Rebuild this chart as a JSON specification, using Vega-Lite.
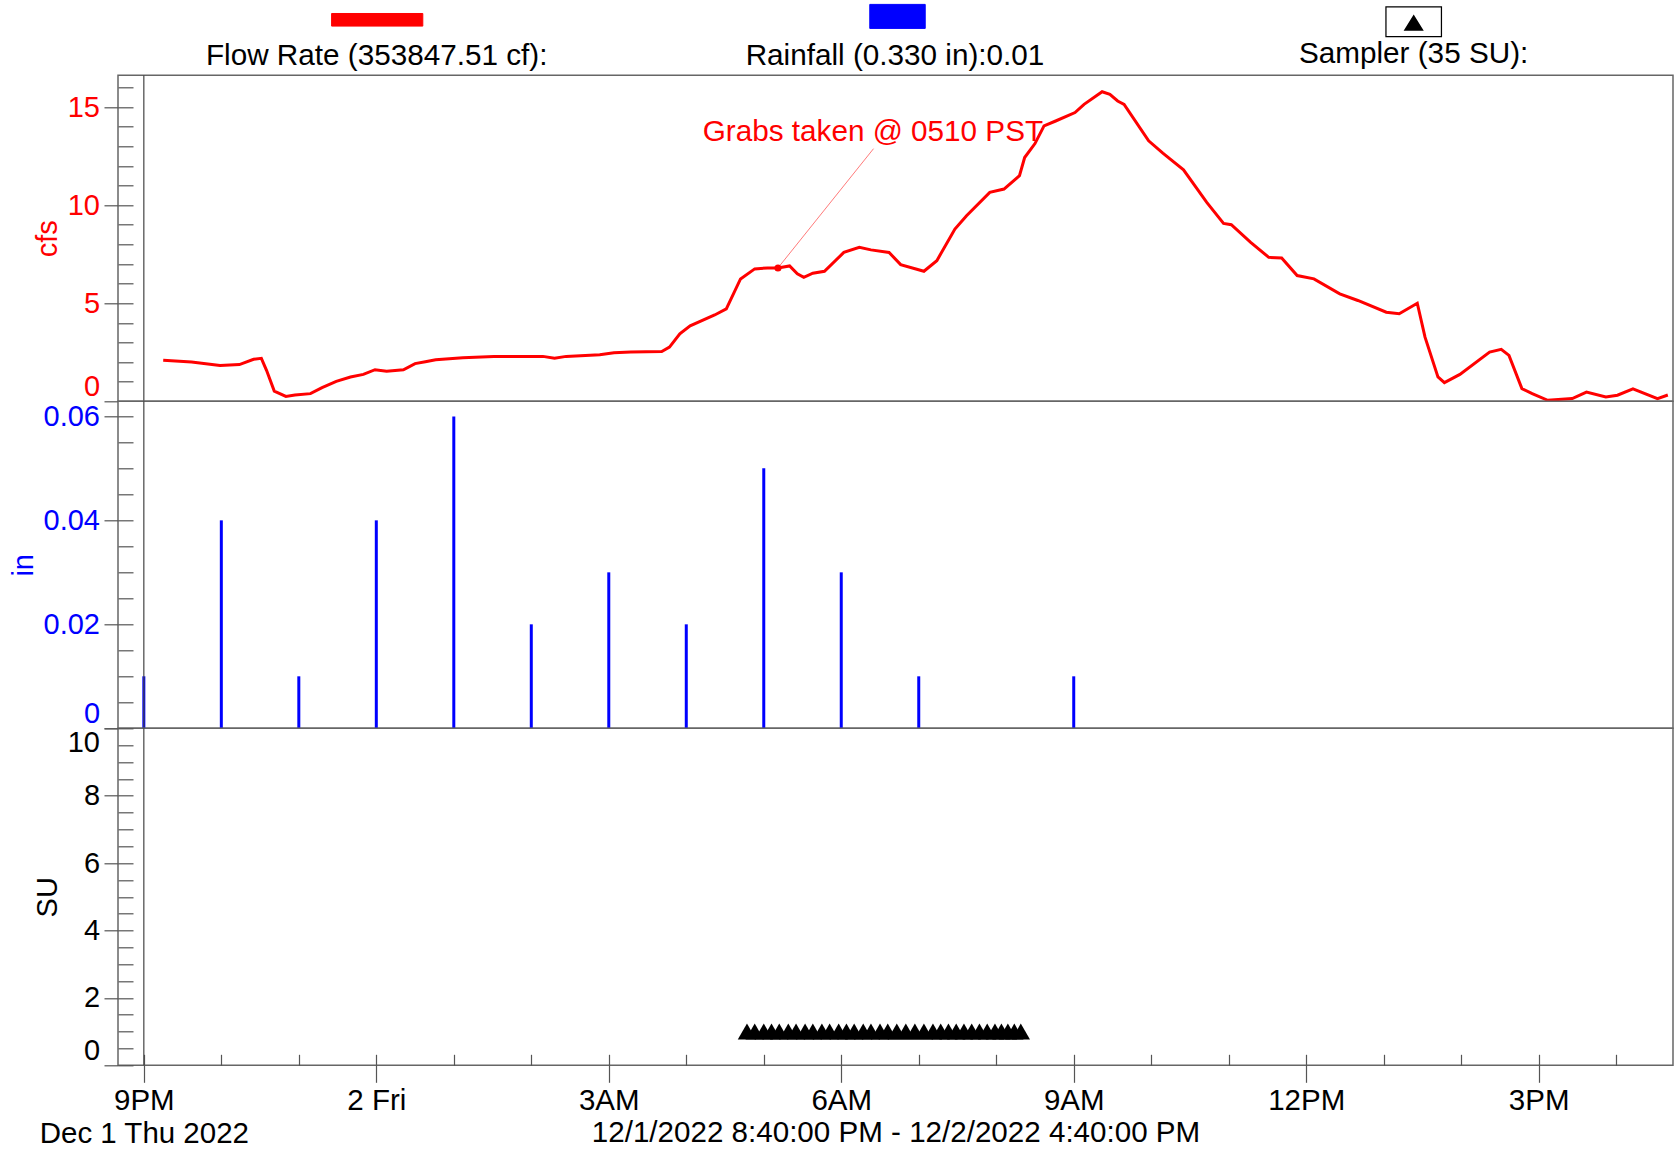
{
  "$schema": "https://vega.github.io/schema/vega-lite/v6.json",
  "padding": {"left": 8, "top": 2.3, "right": 0, "bottom": 0},
  "background": "white",
  "spacing": 0,
  "bounds": "flush",
  "resolve": {
    "scale": {"stroke": "independent", "color": "independent", "fill": "independent"},
    "legend": {"stroke": "independent", "color": "independent", "fill": "independent"}
  },
  "config": {
    "font": "Liberation Sans",
    "view": {"stroke": "#666", "strokeWidth": 1.5, "fill": "white"},
    "axis": {
      "labelFont": "Liberation Sans", "titleFont": "Liberation Sans", "titleFontWeight": "normal",
      "labelFontSize": 29, "titleFontSize": 29, "tickColor": "#555", "tickWidth": 1.2,
      "grid": false, "domain": false, "labelLimit": 400, "titleLimit": 1000, "labelOverlap": false
    },
    "legend": {
      "padding": 0, "titleFont": "Liberation Sans", "titleFontWeight": "normal", "titleFontSize": 29.7,
      "titleColor": "black", "titleLimit": 1000, "labelLimit": 10
    }
  },
  "datasets": {
    "flow": [
      {"t": "2022-12-01T21:15:00", "v": 2.09}, {"t": "2022-12-01T21:37:00", "v": 2.00},
      {"t": "2022-12-01T21:59:00", "v": 1.83}, {"t": "2022-12-01T22:14:00", "v": 1.87},
      {"t": "2022-12-01T22:25:00", "v": 2.14}, {"t": "2022-12-01T22:31:00", "v": 2.19},
      {"t": "2022-12-01T22:35:00", "v": 1.58}, {"t": "2022-12-01T22:41:00", "v": 0.52},
      {"t": "2022-12-01T22:50:00", "v": 0.25}, {"t": "2022-12-01T22:57:00", "v": 0.32},
      {"t": "2022-12-01T23:09:00", "v": 0.39}, {"t": "2022-12-01T23:18:00", "v": 0.70},
      {"t": "2022-12-01T23:29:00", "v": 1.02}, {"t": "2022-12-01T23:40:00", "v": 1.24},
      {"t": "2022-12-01T23:50:00", "v": 1.37}, {"t": "2022-12-01T23:59:00", "v": 1.61},
      {"t": "2022-12-02T00:08:00", "v": 1.53}, {"t": "2022-12-02T00:21:00", "v": 1.61},
      {"t": "2022-12-02T00:30:00", "v": 1.92}, {"t": "2022-12-02T00:38:00", "v": 2.02},
      {"t": "2022-12-02T00:46:00", "v": 2.12}, {"t": "2022-12-02T01:07:00", "v": 2.22},
      {"t": "2022-12-02T01:31:00", "v": 2.29}, {"t": "2022-12-02T02:09:00", "v": 2.29},
      {"t": "2022-12-02T02:18:00", "v": 2.19}, {"t": "2022-12-02T02:27:00", "v": 2.29},
      {"t": "2022-12-02T02:53:00", "v": 2.37}, {"t": "2022-12-02T03:04:00", "v": 2.48},
      {"t": "2022-12-02T03:17:00", "v": 2.51}, {"t": "2022-12-02T03:41:00", "v": 2.54},
      {"t": "2022-12-02T03:47:00", "v": 2.76}, {"t": "2022-12-02T03:55:00", "v": 3.44},
      {"t": "2022-12-02T04:03:00", "v": 3.85}, {"t": "2022-12-02T04:22:00", "v": 4.40},
      {"t": "2022-12-02T04:31:00", "v": 4.71}, {"t": "2022-12-02T04:42:00", "v": 6.24},
      {"t": "2022-12-02T04:53:00", "v": 6.75}, {"t": "2022-12-02T05:03:00", "v": 6.80},
      {"t": "2022-12-02T05:11:00", "v": 6.80}, {"t": "2022-12-02T05:20:00", "v": 6.90},
      {"t": "2022-12-02T05:26:00", "v": 6.50}, {"t": "2022-12-02T05:31:00", "v": 6.32},
      {"t": "2022-12-02T05:38:00", "v": 6.53}, {"t": "2022-12-02T05:47:00", "v": 6.63},
      {"t": "2022-12-02T06:02:00", "v": 7.59}, {"t": "2022-12-02T06:14:00", "v": 7.85},
      {"t": "2022-12-02T06:23:00", "v": 7.72}, {"t": "2022-12-02T06:37:00", "v": 7.59},
      {"t": "2022-12-02T06:46:00", "v": 6.97}, {"t": "2022-12-02T07:04:00", "v": 6.63},
      {"t": "2022-12-02T07:14:00", "v": 7.17}, {"t": "2022-12-02T07:28:00", "v": 8.78},
      {"t": "2022-12-02T07:37:00", "v": 9.46}, {"t": "2022-12-02T07:55:00", "v": 10.65},
      {"t": "2022-12-02T08:06:00", "v": 10.82}, {"t": "2022-12-02T08:18:00", "v": 11.50},
      {"t": "2022-12-02T08:22:00", "v": 12.43}, {"t": "2022-12-02T08:30:00", "v": 13.14},
      {"t": "2022-12-02T08:37:00", "v": 14.04}, {"t": "2022-12-02T08:46:00", "v": 14.29},
      {"t": "2022-12-02T09:01:00", "v": 14.72}, {"t": "2022-12-02T09:08:00", "v": 15.14},
      {"t": "2022-12-02T09:22:00", "v": 15.78}, {"t": "2022-12-02T09:28:00", "v": 15.65},
      {"t": "2022-12-02T09:34:00", "v": 15.31}, {"t": "2022-12-02T09:39:00", "v": 15.14},
      {"t": "2022-12-02T09:58:00", "v": 13.28}, {"t": "2022-12-02T10:09:00", "v": 12.65},
      {"t": "2022-12-02T10:25:00", "v": 11.80}, {"t": "2022-12-02T10:43:00", "v": 10.14},
      {"t": "2022-12-02T10:56:00", "v": 9.07}, {"t": "2022-12-02T11:02:00", "v": 9.00},
      {"t": "2022-12-02T11:17:00", "v": 8.10}, {"t": "2022-12-02T11:31:00", "v": 7.34},
      {"t": "2022-12-02T11:41:00", "v": 7.31}, {"t": "2022-12-02T11:53:00", "v": 6.41},
      {"t": "2022-12-02T12:06:00", "v": 6.24}, {"t": "2022-12-02T12:26:00", "v": 5.48},
      {"t": "2022-12-02T12:40:00", "v": 5.14}, {"t": "2022-12-02T13:02:00", "v": 4.54},
      {"t": "2022-12-02T13:12:00", "v": 4.46}, {"t": "2022-12-02T13:26:00", "v": 5.00},
      {"t": "2022-12-02T13:32:00", "v": 3.27}, {"t": "2022-12-02T13:42:00", "v": 1.24},
      {"t": "2022-12-02T13:47:00", "v": 0.95}, {"t": "2022-12-02T13:59:00", "v": 1.37},
      {"t": "2022-12-02T14:22:00", "v": 2.51}, {"t": "2022-12-02T14:31:00", "v": 2.65},
      {"t": "2022-12-02T14:37:00", "v": 2.34}, {"t": "2022-12-02T14:47:00", "v": 0.65},
      {"t": "2022-12-02T14:55:00", "v": 0.39}, {"t": "2022-12-02T15:07:00", "v": 0.05},
      {"t": "2022-12-02T15:26:00", "v": 0.14}, {"t": "2022-12-02T15:37:00", "v": 0.47},
      {"t": "2022-12-02T15:52:00", "v": 0.22}, {"t": "2022-12-02T16:01:00", "v": 0.31},
      {"t": "2022-12-02T16:13:00", "v": 0.63}, {"t": "2022-12-02T16:32:00", "v": 0.14},
      {"t": "2022-12-02T16:40:00", "v": 0.32}
    ],
    "rain": [
      {"t": "2022-12-01T21:00:00", "v": 0.01}, {"t": "2022-12-01T22:00:00", "v": 0.04},
      {"t": "2022-12-01T23:00:00", "v": 0.01}, {"t": "2022-12-02T00:00:00", "v": 0.04},
      {"t": "2022-12-02T01:00:00", "v": 0.06}, {"t": "2022-12-02T02:00:00", "v": 0.02},
      {"t": "2022-12-02T03:00:00", "v": 0.03}, {"t": "2022-12-02T04:00:00", "v": 0.02},
      {"t": "2022-12-02T05:00:00", "v": 0.05}, {"t": "2022-12-02T06:00:00", "v": 0.03},
      {"t": "2022-12-02T07:00:00", "v": 0.01}, {"t": "2022-12-02T09:00:00", "v": 0.01}
    ],
    "sampler": [
      {"t": "2022-12-02T04:47:00", "su": 1}, {"t": "2022-12-02T04:53:00", "su": 1},
      {"t": "2022-12-02T05:00:00", "su": 1}, {"t": "2022-12-02T05:06:00", "su": 1},
      {"t": "2022-12-02T05:12:00", "su": 1}, {"t": "2022-12-02T05:19:00", "su": 1},
      {"t": "2022-12-02T05:25:00", "su": 1}, {"t": "2022-12-02T05:32:00", "su": 1},
      {"t": "2022-12-02T05:38:00", "su": 1}, {"t": "2022-12-02T05:45:00", "su": 1},
      {"t": "2022-12-02T05:51:00", "su": 1}, {"t": "2022-12-02T05:58:00", "su": 1},
      {"t": "2022-12-02T06:04:00", "su": 1}, {"t": "2022-12-02T06:10:00", "su": 1},
      {"t": "2022-12-02T06:17:00", "su": 1}, {"t": "2022-12-02T06:23:00", "su": 1},
      {"t": "2022-12-02T06:30:00", "su": 1}, {"t": "2022-12-02T06:36:00", "su": 1},
      {"t": "2022-12-02T06:43:00", "su": 1}, {"t": "2022-12-02T06:50:00", "su": 1},
      {"t": "2022-12-02T06:57:00", "su": 1}, {"t": "2022-12-02T07:04:00", "su": 1},
      {"t": "2022-12-02T07:11:00", "su": 1}, {"t": "2022-12-02T07:17:00", "su": 1},
      {"t": "2022-12-02T07:23:00", "su": 1}, {"t": "2022-12-02T07:29:00", "su": 1},
      {"t": "2022-12-02T07:35:00", "su": 1}, {"t": "2022-12-02T07:41:00", "su": 1},
      {"t": "2022-12-02T07:47:00", "su": 1}, {"t": "2022-12-02T07:53:00", "su": 1},
      {"t": "2022-12-02T07:59:00", "su": 1}, {"t": "2022-12-02T08:04:00", "su": 1},
      {"t": "2022-12-02T08:09:00", "su": 1}, {"t": "2022-12-02T08:14:00", "su": 1},
      {"t": "2022-12-02T08:19:00", "su": 1}
    ],
    "note": [
      {"t": "2022-12-02T05:11:00", "v": 6.8, "t2": "2022-12-02T06:25:00", "v2": 12.88,
       "lt": "2022-12-02T06:24:30", "lv": 13.25, "label": "Grabs taken @ 0510 PST"}
    ],
    "ref9": [{"t": "2022-12-01T21:00:00"}]
  },
  "vconcat": [
    {
      "width": 1555, "height": 326,
      "resolve": {"axis": {"y": "independent"}},
      "layer": [
        {
          "data": {"name": "flow"},
          "mark": {"type": "line", "color": "#ff0000", "strokeWidth": 3},
          "encoding": {
            "x": {"field": "t", "type": "temporal", "axis": null,
                  "scale": {"domain": [{"year": 2022, "month": 12, "date": 1, "hours": 20, "minutes": 40}, {"year": 2022, "month": 12, "date": 2, "hours": 16, "minutes": 44}], "nice": false}},
            "y": {"field": "v", "type": "quantitative",
                  "scale": {"domain": [0, 16.62], "nice": false, "zero": false},
                  "axis": {
                    "orient": "left", "values": [0, 5, 10, 15],
                    "title": "cfs", "titleColor": "#ff0000", "titlePadding": 5,
                    "labelColor": "#ff0000", "labelPadding": 4.5, "tickSize": 14, "labelFlush": true
                  }},
            "stroke": {"datum": "Flow", "scale": {"range": ["#ff0000"]},
                       "legend": {
                         "orient": "none", "legendX": 87.7, "legendY": -62,
                         "title": "Flow Rate (353847.51 cf):", "titleOrient": "bottom", "titleAnchor": "middle", "titleAlign": "center",
                         "titlePadding": 13.8, "labelExpr": "''",
                         "symbolType": "M-7.6,-1.05H7.6V1.05H-7.6Z", "symbolSize": 144, "symbolOffset": 42,
                         "encode": {"symbols": {"update": {"fill": {"value": "#ff0000"}, "stroke": {"value": "#666"}, "strokeWidth": {"value": 1}, "opacity": {"value": 1}}}}
                       }}
          }
        },
        {
          "data": {"name": "flow"},
          "mark": {"type": "line", "strokeOpacity": 0, "color": "#ff0000"},
          "encoding": {
            "x": {"field": "t", "type": "temporal", "axis": null},
            "y": {"field": "v", "type": "quantitative",
                  "axis": {"orient": "left", "offset": -15, "values": [0,1,2,3,4,5,6,7,8,9,10,11,12,13,14,15,16],
                           "tickSize": 15, "labels": false, "title": null}}
          }
        },
        {
          "data": {"name": "ref9"},
          "mark": {"type": "rule", "color": "#444", "strokeWidth": 1.2},
          "encoding": {"x": {"field": "t", "type": "temporal", "axis": null}}
        },
        {
          "data": {"name": "note"},
          "mark": {"type": "rule", "color": "#ff4040", "strokeWidth": 1, "opacity": 0.7},
          "encoding": {
            "x": {"field": "t", "type": "temporal", "axis": null},
            "x2": {"field": "t2"},
            "y": {"field": "v", "type": "quantitative", "axis": null},
            "y2": {"field": "v2"}
          }
        },
        {
          "data": {"name": "note"},
          "mark": {"type": "point", "filled": true, "color": "#ff0000", "size": 50, "opacity": 1},
          "encoding": {
            "x": {"field": "t", "type": "temporal", "axis": null},
            "y": {"field": "v", "type": "quantitative", "axis": null}
          }
        },
        {
          "data": {"name": "note"},
          "mark": {"type": "text", "color": "#ff0000", "fontSize": 29.7, "font": "Liberation Sans", "align": "center", "baseline": "alphabetic"},
          "encoding": {
            "x": {"field": "lt", "type": "temporal", "axis": null},
            "y": {"field": "lv", "type": "quantitative", "axis": null},
            "text": {"field": "label"}
          }
        }
      ]
    },
    {
      "width": 1555, "height": 327,
      "resolve": {"axis": {"y": "independent"}},
      "layer": [
        {
          "data": {"name": "rain"},
          "mark": {"type": "rule", "strokeWidth": 3},
          "encoding": {
            "x": {"field": "t", "type": "temporal", "axis": null,
                  "scale": {"domain": [{"year": 2022, "month": 12, "date": 1, "hours": 20, "minutes": 40}, {"year": 2022, "month": 12, "date": 2, "hours": 16, "minutes": 44}], "nice": false}},
            "y": {"field": "v", "type": "quantitative",
                  "scale": {"domain": [0, 0.0629], "nice": false, "zero": false},
                  "axis": {
                    "orient": "left", "values": [0, 0.02, 0.04, 0.06],
                    "title": "in", "titleColor": "#0000ff", "titlePadding": 5,
                    "labelColor": "#0000ff", "labelPadding": 4.5, "tickSize": 14, "labelFlush": true,
                    "labelExpr": "datum.value == 0 ? '0' : format(datum.value, '.2f')"
                  }},
            "y2": {"datum": 0},
            "color": {"datum": "Rainfall", "scale": {"range": ["#0000ff"]},
                      "legend": {
                        "orient": "none", "legendX": 628, "legendY": -397.4,
                        "title": "Rainfall (0.330 in):0.01", "titleOrient": "bottom", "titleAnchor": "middle", "titleAlign": "center",
                        "titlePadding": 11.2, "labelExpr": "''",
                        "symbolType": "M-2.31,-1H2.31V1H-2.31Z", "symbolSize": 576, "symbolOffset": 22,
                        "encode": {"symbols": {"update": {"fill": {"value": "#0000ff"}, "stroke": {"value": "#555"}, "strokeWidth": {"value": 1}, "opacity": {"value": 1}}}}
                      }}
          }
        },
        {
          "data": {"name": "rain"},
          "mark": {"type": "tick", "opacity": 0, "color": "#0000ff"},
          "encoding": {
            "x": {"field": "t", "type": "temporal", "axis": null},
            "y": {"field": "v", "type": "quantitative",
                  "axis": {"orient": "left", "offset": -15,
                           "values": [0,0.005,0.01,0.015,0.02,0.025,0.03,0.035,0.04,0.045,0.05,0.055,0.06],
                           "tickSize": 15, "labels": false, "title": null}}
          }
        },
        {
          "data": {"name": "ref9"},
          "mark": {"type": "rule", "color": "#444", "strokeWidth": 1.2},
          "encoding": {"x": {"field": "t", "type": "temporal", "axis": null}}
        }
      ]
    },
    {
      "width": 1555, "height": 337,
      "resolve": {"axis": {"x": "independent", "y": "independent"}},
      "layer": [
        {
          "data": {"name": "sampler"},
          "mark": {"type": "point", "filled": true, "shape": "triangle-up", "size": 340, "opacity": 1},
          "encoding": {
            "x": {"field": "t", "type": "temporal",
                  "scale": {"domain": [{"year": 2022, "month": 12, "date": 1, "hours": 20, "minutes": 40}, {"year": 2022, "month": 12, "date": 2, "hours": 16, "minutes": 44}], "nice": false},
                  "axis": {
                    "orient": "bottom",
                    "values": [
                      {"year": 2022, "month": 12, "date": 1, "hours": 21},
                      {"year": 2022, "month": 12, "date": 2, "hours": 0},
                      {"year": 2022, "month": 12, "date": 2, "hours": 3},
                      {"year": 2022, "month": 12, "date": 2, "hours": 6},
                      {"year": 2022, "month": 12, "date": 2, "hours": 9},
                      {"year": 2022, "month": 12, "date": 2, "hours": 12},
                      {"year": 2022, "month": 12, "date": 2, "hours": 15}
                    ],
                    "labelExpr": "hours(datum.value) == 21 ? ['9PM', 'Dec 1 Thu 2022'] : (hours(datum.value) == 0 ? '2 Fri' : timeFormat(datum.value, '%-I%p'))",
                    "labelFontSize": 29.5, "labelColor": "black", "labelBaseline": "alphabetic", "labelPadding": 27, "labelLineHeight": 33,
                    "labelFlush": false, "tickSize": 17,
                    "title": "12/1/2022 8:40:00 PM - 12/2/2022 4:40:00 PM", "titleColor": "black", "titleFontSize": 29.6,
                    "titlePadding": -29
                  }},
            "y": {"field": "su", "type": "quantitative",
                  "scale": {"domain": [0, 10], "nice": false, "zero": false},
                  "axis": {
                    "orient": "left", "values": [0, 2, 4, 6, 8, 10],
                    "title": "SU", "titleColor": "black", "titlePadding": 5,
                    "labelColor": "black", "labelPadding": 4.5, "tickSize": 14, "labelFlush": true
                  }},
            "fill": {"datum": "Sampler", "scale": {"range": ["black"]},
                     "legend": {
                       "orient": "none", "legendX": 1180.6, "legendY": -723,
                       "title": "Sampler (35 SU):", "titleOrient": "bottom", "titleAnchor": "middle", "titleAlign": "center",
                       "titlePadding": 2.8, "labelExpr": "''",
                       "symbolType": "M-1.83,-1H1.83V1H-1.83ZM-1.75,-0.92V0.92H1.75V-0.92ZM0,-0.47L0.65,0.57H-0.65Z",
                       "symbolSize": 961, "symbolOffset": 11.6,
                       "encode": {"symbols": {"update": {
                         "shape": {"value": "M-1.83,-1H1.83V1H-1.83ZM-1.75,-0.92V0.92H1.75V-0.92ZM0,-0.47L0.65,0.57H-0.65Z"},
                         "fill": {"value": "black"}, "strokeWidth": {"value": 0}, "opacity": {"value": 1}}}}
                     }}
          }
        },
        {
          "data": {"name": "sampler"},
          "mark": {"type": "point", "opacity": 0, "color": "black"},
          "encoding": {
            "x": {"field": "t", "type": "temporal",
                  "axis": {"orient": "bottom", "offset": -11,
                           "values": [
                             {"year": 2022, "month": 12, "date": 1, "hours": 21},
                             {"year": 2022, "month": 12, "date": 1, "hours": 22},
                             {"year": 2022, "month": 12, "date": 1, "hours": 23},
                             {"year": 2022, "month": 12, "date": 2, "hours": 0},
                             {"year": 2022, "month": 12, "date": 2, "hours": 1},
                             {"year": 2022, "month": 12, "date": 2, "hours": 2},
                             {"year": 2022, "month": 12, "date": 2, "hours": 3},
                             {"year": 2022, "month": 12, "date": 2, "hours": 4},
                             {"year": 2022, "month": 12, "date": 2, "hours": 5},
                             {"year": 2022, "month": 12, "date": 2, "hours": 6},
                             {"year": 2022, "month": 12, "date": 2, "hours": 7},
                             {"year": 2022, "month": 12, "date": 2, "hours": 8},
                             {"year": 2022, "month": 12, "date": 2, "hours": 9},
                             {"year": 2022, "month": 12, "date": 2, "hours": 10},
                             {"year": 2022, "month": 12, "date": 2, "hours": 11},
                             {"year": 2022, "month": 12, "date": 2, "hours": 12},
                             {"year": 2022, "month": 12, "date": 2, "hours": 13},
                             {"year": 2022, "month": 12, "date": 2, "hours": 14},
                             {"year": 2022, "month": 12, "date": 2, "hours": 15},
                             {"year": 2022, "month": 12, "date": 2, "hours": 16}
                           ],
                           "tickSize": 11, "labels": false, "title": null}},
            "y": {"field": "su", "type": "quantitative",
                  "axis": {"orient": "left", "offset": -15,
                           "values": [0,0.5,1,1.5,2,2.5,3,3.5,4,4.5,5,5.5,6,6.5,7,7.5,8,8.5,9,9.5,10],
                           "tickSize": 15, "labels": false, "title": null}}
          }
        },
        {
          "data": {"name": "ref9"},
          "mark": {"type": "rule", "color": "#444", "strokeWidth": 1.2},
          "encoding": {"x": {"field": "t", "type": "temporal", "axis": null}}
        }
      ]
    }
  ]
}
